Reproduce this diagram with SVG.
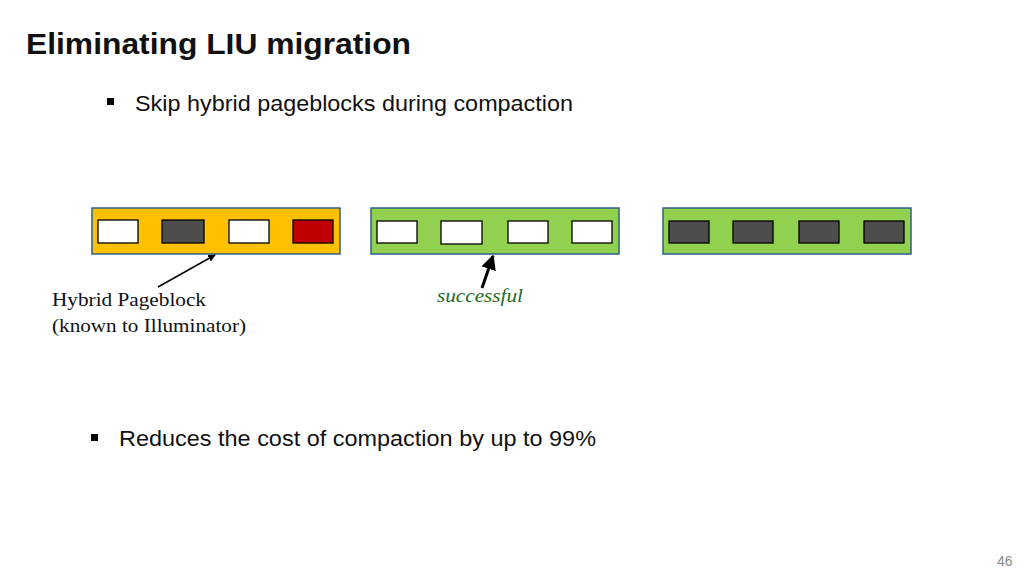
<svg xmlns="http://www.w3.org/2000/svg" width="1024" height="576" viewBox="0 0 1024 576">
<defs>
<marker id="ah" viewBox="0 0 10 10" refX="9" refY="5" markerWidth="5" markerHeight="5" orient="auto"><path d="M0,0L10,5L0,10z" fill="#000"/></marker>
<style>
.t{font-family:"Liberation Sans",Arial,sans-serif}
.s{font-family:"Liberation Serif","Times New Roman",serif}
.blk{stroke:#2e5f8a;stroke-width:1.5}
.w{fill:#fff;stroke:#000;stroke-width:1.3}
.d{fill:#4d4d4d;stroke:#000;stroke-width:1.3}
</style>
</defs>
<rect width="1024" height="576" fill="#fff"/>
<text x="26" y="54" class="t" font-size="30" font-weight="bold" fill="#111" textLength="385" lengthAdjust="spacingAndGlyphs">Eliminating LIU migration</text>
<rect x="107" y="98" width="7" height="7" fill="#000"/>
<text x="135" y="111" class="t" font-size="22" fill="#111" textLength="438" lengthAdjust="spacingAndGlyphs">Skip hybrid pageblocks during compaction</text>
<g id="pb1">
<rect x="92" y="208" width="248" height="46" fill="#ffc000" class="blk"/>
<rect x="98" y="220" width="40" height="23" class="w"/>
<rect x="162" y="220" width="42" height="23" class="d"/>
<rect x="229" y="220" width="40" height="23" class="w"/>
<rect x="293" y="220" width="40" height="23" fill="#c00000" stroke="#000" stroke-width="1.3"/>
</g>
<g id="pb2">
<rect x="371" y="208" width="248" height="46" fill="#92d050" class="blk"/>
<rect x="377" y="221" width="40" height="22" class="w"/>
<rect x="441" y="221" width="41" height="23" class="w"/>
<rect x="508" y="221" width="40" height="22" class="w"/>
<rect x="572" y="221" width="40" height="22" class="w"/>
</g>
<g id="pb3">
<rect x="663" y="208" width="248" height="46" fill="#92d050" class="blk"/>
<rect x="669" y="221" width="40" height="22" class="d"/>
<rect x="733" y="221" width="40" height="22" class="d"/>
<rect x="799" y="221" width="40" height="22" class="d"/>
<rect x="864" y="221" width="40" height="22" class="d"/>
</g>
<g id="connectors">
<line x1="158" y1="287" x2="215" y2="255" stroke="#000" stroke-width="1.5" marker-end="url(#ah)"/>
<line x1="482" y1="288" x2="493" y2="256" stroke="#000" stroke-width="3" marker-end="url(#ah)"/>
</g>
<g id="labels">
<text x="52" y="306" class="s" font-size="19" fill="#111" textLength="154" lengthAdjust="spacingAndGlyphs">Hybrid Pageblock</text>
<text x="52" y="332" class="s" font-size="19" fill="#111" textLength="194" lengthAdjust="spacingAndGlyphs">(known to Illuminator)</text>
<text x="437" y="302" class="s" font-size="19" font-style="italic" fill="#1e6b1e" textLength="86" lengthAdjust="spacingAndGlyphs">successful</text>
</g>
<rect x="91" y="434" width="7" height="7" fill="#000"/>
<text x="119" y="446" class="t" font-size="22" fill="#111" textLength="477" lengthAdjust="spacingAndGlyphs">Reduces the cost of compaction by up to 99%</text>
<text x="997" y="566" class="t" font-size="14" fill="#888">46</text>
</svg>
